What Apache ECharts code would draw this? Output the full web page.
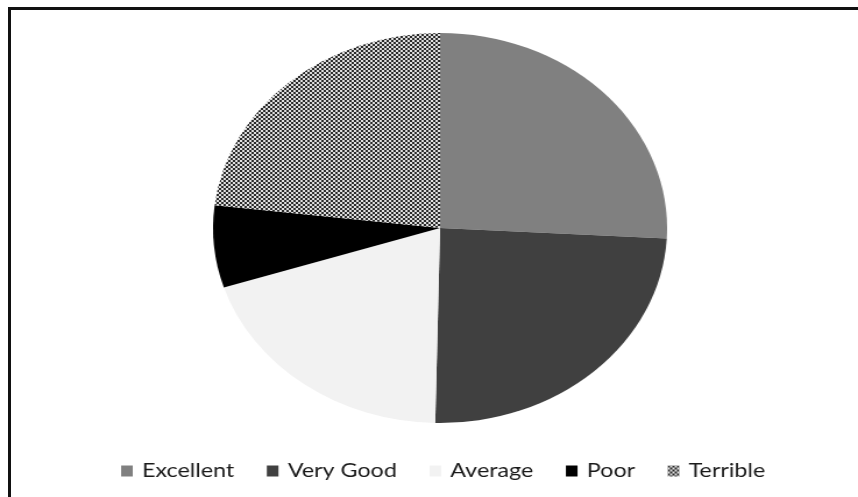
<!DOCTYPE html>
<html>
<head>
<meta charset="utf-8">
<script src="https://cdn.jsdelivr.net/npm/echarts@6/dist/echarts.min.js"></script>
<style>
  html, body { margin: 0; padding: 0; background: #fff; overflow: hidden; }
  #frame {
    position: absolute; left: 8px; top: 7px; width: 860px; height: 500px;
    border-top: 3px solid #111; border-left: 3px solid #111; box-sizing: border-box;
  }
  #chart {
    position: absolute; left: 0; top: 0; width: 737px; height: 497px;
    transform: scaleX(1.1642); transform-origin: 0 0;
  }
</style>
</head>
<body>
<div id="frame"></div>
<div id="chart"></div>
<script>
// Survey ratings
const categories = ['Excellent', 'Very Good', 'Average', 'Poor', 'Terrible'];
const counts = [38, 36, 29, 10, 34];
const sliceColors = ['#808080', '#404040', '#f2f2f2', '#000000', null];

// fine checkerboard fill for the "Terrible" slice
function checkerPattern() {
  const c = document.createElement('canvas');
  c.width = 4; c.height = 4;
  const g = c.getContext('2d');
  g.fillStyle = '#e0e0e0'; g.fillRect(0, 0, 4, 4);
  g.fillStyle = '#2a2a2a';
  g.fillRect(0, 0, 2, 2); g.fillRect(2, 2, 2, 2);
  return c;
}
const pattern = { image: checkerPattern(), repeat: 'repeat' };

const chart = echarts.init(document.getElementById('chart'), null, { renderer: 'canvas' });
chart.setOption({
  animation: false,
  legend: {
    left: 99, top: 456,
    itemWidth: 10, itemHeight: 11, itemGap: 28,
    icon: 'rect',
    textStyle: { fontFamily: 'Lato', fontSize: 20, color: '#1a1a1a', padding: [0, 0, 0, 3] },
    data: categories
  },
  series: [{
    type: 'pie',
    center: [378, 228],
    radius: 195,
    startAngle: 90,
    clockwise: true,
    label: { show: false },
    labelLine: { show: false },
    emphasis: { disabled: true },
    itemStyle: { borderWidth: 0 },
    data: categories.map((name, i) => ({
      name,
      value: counts[i],
      itemStyle: { color: sliceColors[i] || pattern }
    }))
  }]
});
</script>
</body>
</html>
